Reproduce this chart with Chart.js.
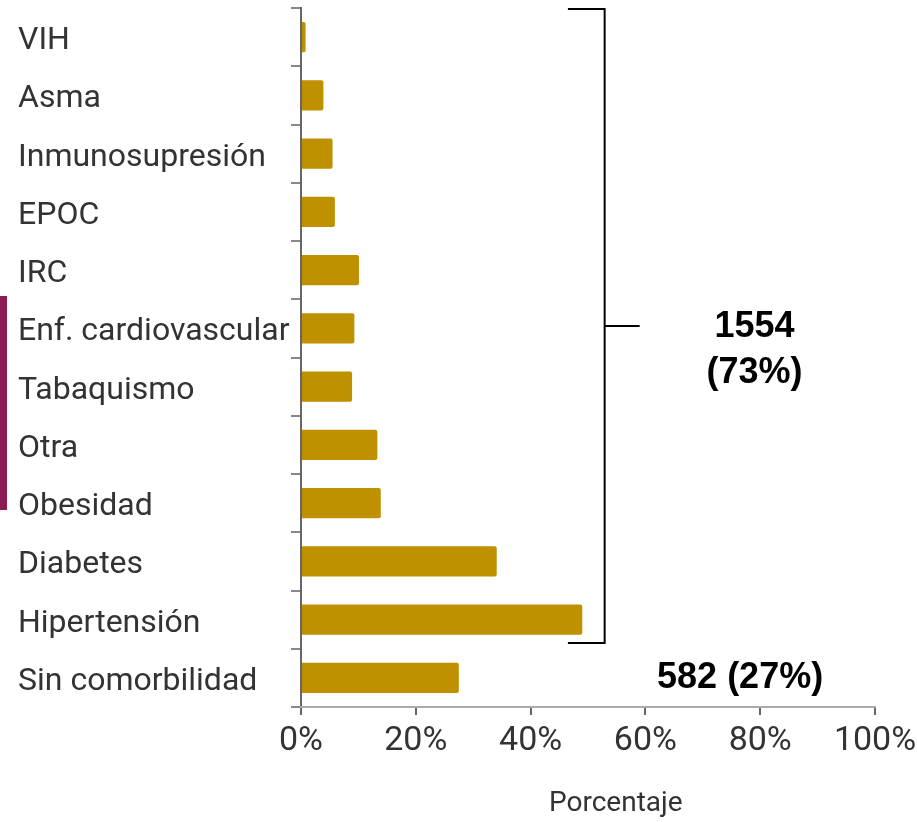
<!DOCTYPE html>
<html><head><meta charset="utf-8">
<script src="https://cdn.jsdelivr.net/npm/chart.js@4"></script>
<style>
html,body{margin:0;padding:0;background:#fff}
#wrap{position:relative;width:917px;height:822px;overflow:hidden}
#side{position:absolute;left:0;top:296px;width:7px;height:214px;background:#8E1B52}
</style>
</head><body>
<div id="wrap"><div id="side"></div><canvas id="c" width="917" height="822"></canvas></div>
<script>
const categories = ['VIH','Asma','Inmunosupresión','EPOC','IRC','Enf. cardiovascular','Tabaquismo','Otra','Obesidad','Diabetes','Hipertensión','Sin comorbilidad'];
const percentages = [0.8, 3.9, 5.5, 5.9, 10.1, 9.3, 8.9, 13.3, 13.9, 34.1, 49.0, 27.5];
const xTicks = [0, 20, 40, 60, 80, 100];
const comorbidLabel = ['1554', '(73%)'];
const noComorbidLabel = '582 (27%)';
const axisTitle = '        Porcentaje';
// bracket placement in data units (x in %, y in category index)
const bracketX = 52.9, bracketArmStart = 46.5, bracketTickEnd = 59.0;
const bracketFirst = 0, bracketLast = 10, noComorbidIndex = 11;
const comorbidTextX = 79.0, noComorbidTextX = 76.5;

const bracketPlugin = {
  id: 'bracket',
  afterDraw(chart) {
    const {ctx, scales: {x, y}} = chart;
    const step = y.getPixelForValue(1) - y.getPixelForValue(0);
    const top = y.getPixelForValue(bracketFirst) - step * 0.5 + 1;
    const bottom = y.getPixelForValue(bracketLast) + step * 0.4;
    const bx = x.getPixelForValue(bracketX);
    const ax = x.getPixelForValue(bracketArmStart);
    const tx = x.getPixelForValue(bracketTickEnd);
    const mid = (top + bottom) / 2;
    ctx.save();
    ctx.strokeStyle = '#000';
    ctx.lineWidth = 2;
    ctx.beginPath();
    ctx.moveTo(ax, top); ctx.lineTo(bx, top); ctx.lineTo(bx, bottom); ctx.lineTo(ax, bottom);
    ctx.moveTo(bx, mid); ctx.lineTo(tx, mid);
    ctx.stroke();
    ctx.fillStyle = '#000';
    ctx.font = 'bold 36px "Liberation Sans", Arial, sans-serif';
    ctx.textAlign = 'center';
    ctx.textBaseline = 'middle';
    const cx = x.getPixelForValue(comorbidTextX);
    ctx.fillText(comorbidLabel[0], cx, mid + 1);
    ctx.fillText(comorbidLabel[1], cx, mid + 47);
    ctx.fillText(noComorbidLabel, x.getPixelForValue(noComorbidTextX), y.getPixelForValue(noComorbidIndex));
    ctx.restore();
  }
};

new Chart(document.getElementById('c'), {
  type: 'bar',
  data: {
    labels: categories,
    datasets: [{
      data: percentages,
      backgroundColor: '#BF9000',
      borderRadius: 2,
      borderSkipped: 'start',
      barPercentage: 0.52,
      categoryPercentage: 1
    }]
  },
  options: {
    indexAxis: 'y',
    responsive: false,
    animation: false,
    devicePixelRatio: 1,
    layout: {padding: {left: 18, right: 42, top: 8, bottom: 0}},
    plugins: {legend: {display: false}, tooltip: {enabled: false}},
    scales: {
      y: {
        grid: {display: true, drawOnChartArea: false, drawTicks: true, tickLength: 10, color: '#888', lineWidth: 2, offset: true},
        border: {display: true, color: '#666', width: 2},
        ticks: {crossAlign: 'far', padding: 4, labelOffset: 4, color: '#333', font: {family: 'Roboto', size: 32}},
        afterFit(s) { s.width = 283; s.paddingTop = 0; s.paddingBottom = 0; }
      },
      x: {
        min: 0, max: 100,
        afterBuildTicks(s) { s.ticks = xTicks.map(v => ({value: v})); },
        grid: {display: true, drawOnChartArea: false, tickLength: 8, color: '#666', lineWidth: 2},
        border: {display: true, color: '#aaa', width: 2},
        ticks: {color: '#333', padding: 6, font: {family: 'Roboto', size: 34}, callback: v => v + '%'},
        title: {display: true, text: axisTitle, color: '#333', font: {family: 'Roboto', size: 28}, padding: {top: 0, bottom: 1}},
        afterFit(s) { s.height = 115; s.paddingLeft = 0; s.paddingRight = 0; }
      }
    }
  },
  plugins: [bracketPlugin]
});
</script>
</body></html>
